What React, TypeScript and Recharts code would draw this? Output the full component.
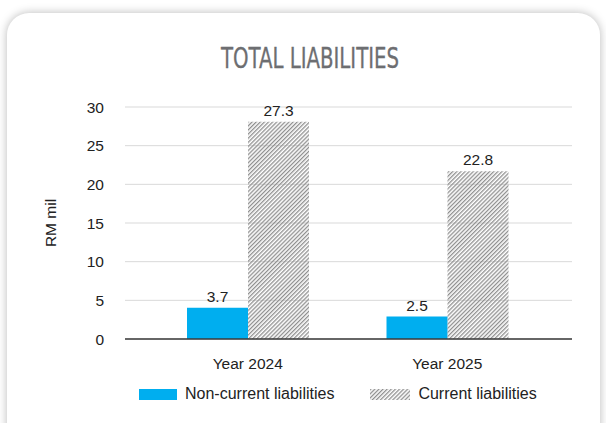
import React from 'react';
import { BarChart, Bar, XAxis, YAxis, CartesianGrid, LabelList, Legend } from 'recharts';

const categories = ['Year 2024', 'Year 2025'];
const nonCurrent = [4.05, 2.9];
const current = [28.1, 21.7];
const nonCurrentLabels = ['3.7', '2.5'];
const currentLabels = ['27.3', '22.8'];
const yTicks = [0, 5, 10, 15, 20, 25, 30];
const seriesNames = ['Non-current liabilities', 'Current liabilities'];
const title = 'TOTAL LIABILITIES';
const yLabel = 'RM mil';

const BLUE = '#00aeef';
const FONT = '"Liberation Sans", Arial, Helvetica, sans-serif';

const data = categories.map((c, i) => ({
  name: c,
  nc: nonCurrent[i],
  cur: current[i],
  ncLabel: nonCurrentLabels[i],
  curLabel: currentLabels[i],
}));

const YLabel = (props: any) => {
  const vb = props.viewBox || {};
  const cx = 50;
  const cy = vb.y + vb.height / 2;
  return (
    <text
      x={cx}
      y={cy}
      transform={`rotate(-90 ${cx} ${cy})`}
      textAnchor="middle"
      dominantBaseline="central"
      fontSize={15.5}
      fontFamily={FONT}
      fill="#222"
    >
      {yLabel}
    </text>
  );
};

const HatchSwatch = () => (
  <svg width={40} height={11} style={{ display: 'block' }}>
    <defs>
      <pattern id="hatchLegend" width={2.9} height={2.9} patternUnits="userSpaceOnUse" patternTransform="rotate(45)">
        <rect x={0} y={0} width={1.3} height={2.9} fill="#8f8f8f" />
      </pattern>
    </defs>
    <rect x={0} y={0} width={40} height={11} fill="url(#hatchLegend)" />
  </svg>
);

const LegendContent = () => (
  <div style={{ display: 'flex', alignItems: 'center', marginLeft: 139, fontFamily: FONT, fontSize: 16, color: '#222', height: 26, whiteSpace: 'nowrap' }}>
    <div style={{ width: 38, height: 11, background: BLUE }} />
    <span style={{ marginLeft: 8 }}>{seriesNames[0]}</span>
    <div style={{ marginLeft: 36 }}>
      <HatchSwatch />
    </div>
    <span style={{ marginLeft: 8 }}>{seriesNames[1]}</span>
  </div>
);

export default function App() {
  return (
    <div style={{ position: 'absolute', left: 0, top: 0, width: 606, height: 423, background: '#fff', overflow: 'hidden' }}>
      <div
        style={{
          position: 'absolute',
          left: 7,
          top: 13,
          width: 593,
          height: 440,
          borderRadius: 22,
          background: '#fff',
          boxShadow: '0 0 10px rgba(0,0,0,0.28)',
        }}
      />
      <svg style={{ position: 'absolute', left: 0, top: 0 }} width={606} height={80}>
        <text
          x={221}
          y={67.5}
          fontSize={29}
          fontFamily='"Liberation Sans Narrow", "DejaVu Sans Condensed", "Liberation Sans", sans-serif'
          fill="#6d6e71"
          stroke="#6d6e71"
          strokeWidth={0.3}
          textLength={178}
          lengthAdjust="spacingAndGlyphs"
        >
          {title}
        </text>
      </svg>
      <div style={{ position: 'absolute', left: 0, top: 0 }}>
        <BarChart
          width={606}
          height={423}
          data={data}
          margin={{ top: 107, right: 34, bottom: 24, left: 25 }}
          barGap={0}
          barSize={61}
        >
          <defs>
            <pattern id="hatchBar" width={2.9} height={2.9} patternUnits="userSpaceOnUse" patternTransform="rotate(45)">
              <rect x={0} y={0} width={1.3} height={2.9} fill="#8f8f8f" />
            </pattern>
          </defs>
          <CartesianGrid vertical={false} stroke="#d9d9d9" strokeWidth={1} />
          <XAxis
            dataKey="name"
            height={30}
            padding={{ left: 23, right: 25 }}
            axisLine={{ stroke: '#3a3a3a', strokeWidth: 1.5 }}
            tickLine={false}
            tickSize={6}
            tickMargin={13}
            tick={{ fontSize: 15.5, fontFamily: FONT, fill: '#222' }}
          />
          <YAxis
            width={100}
            domain={[0, 30]}
            ticks={yTicks}
            axisLine={false}
            tickLine={false}
            tickSize={6}
            tickMargin={15}
            tick={{ fontSize: 15.5, fontFamily: FONT, fill: '#222' }}
            label={<YLabel />}
          />
          <Legend
            verticalAlign="bottom"
            height={30}
            wrapperStyle={{ left: 0, top: 381, width: 606 }}
            content={<LegendContent />}
          />
          <Bar dataKey="nc" name={seriesNames[0]} fill={BLUE} isAnimationActive={false}>
            <LabelList dataKey="ncLabel" position="top" offset={6} style={{ fontSize: 15.5, fontFamily: FONT, fill: '#222' }} />
          </Bar>
          <Bar dataKey="cur" name={seriesNames[1]} fill="url(#hatchBar)" isAnimationActive={false}>
            <LabelList dataKey="curLabel" position="top" offset={6} style={{ fontSize: 15.5, fontFamily: FONT, fill: '#222' }} />
          </Bar>
        </BarChart>
      </div>
    </div>
  );
}
